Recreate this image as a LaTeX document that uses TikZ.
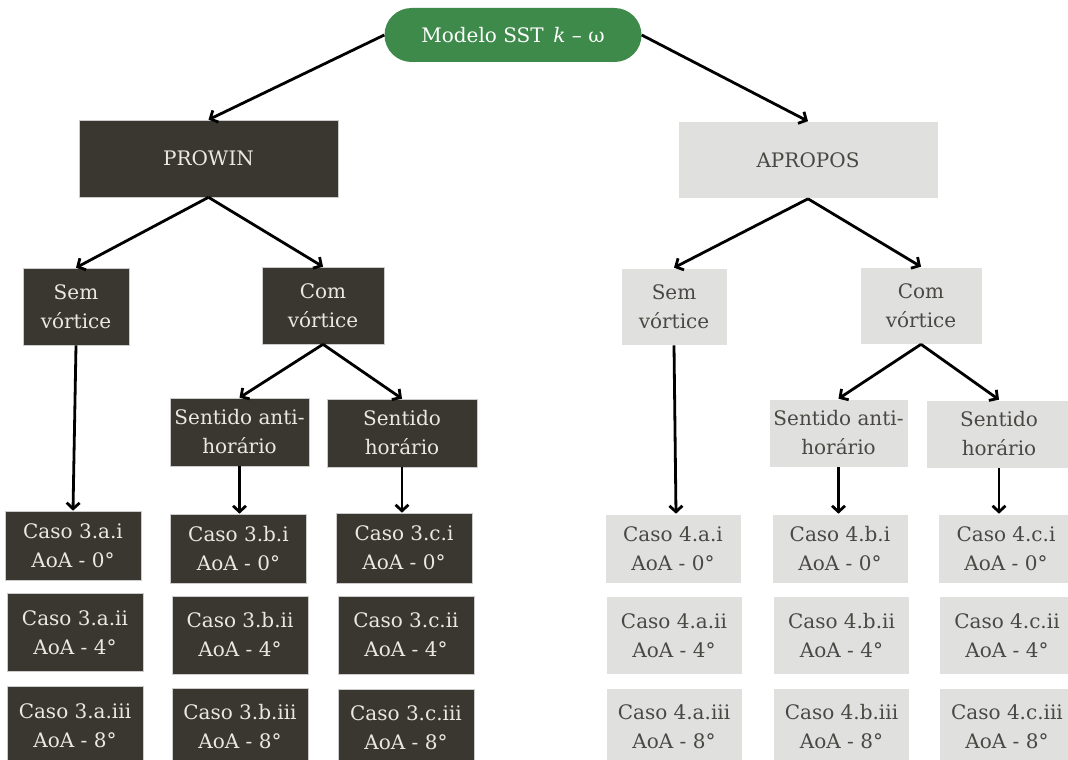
\documentclass[tikz,border=0pt]{standalone}
\usepackage{fontspec}
\setmainfont{DejaVu Serif}
\usetikzlibrary{positioning, arrows.meta}

\definecolor{boxdark}{HTML}{3A3731}
\definecolor{textlight}{HTML}{EAE8E2}
\definecolor{boxlight}{HTML}{E0E1DE}
\definecolor{textdark}{HTML}{4A4843}
\definecolor{topgreen}{HTML}{3D8A4A}

\begin{document}
\begin{tikzpicture}[x=1pt, y=-1pt,
  every node/.style={align=center, inner sep=0pt, font=\fontsize{20}{29}\selectfont},
  darkbox/.style={rectangle, fill=boxdark, draw=gray!40, line width=0.6pt, text=textlight},
  lightbox/.style={rectangle, fill=boxlight, draw=white, line width=0.6pt, text=textdark},
  casobox/.style={minimum width=136pt, minimum height=78pt},
  arrow/.style={-{Straight Barb[length=6pt, width=13pt]}, line width=2.8pt, black}]
  % Frame of the picture
  \useasboundingbox (0,0) rectangle (1068,760);
  \clip (0,0) rectangle (1068,760);

  % Top node
  \node (modelo) [rectangle, rounded corners=27pt, fill=topgreen, text=white, minimum width=257pt, minimum height=54pt] at (513,35) {Modelo SST\, \textit{k} – ω};

  % Create the nodes (PROWIN)
  \node (prowin) [darkbox, minimum width=259pt, minimum height=77pt] at (208.5,158.5) {PROWIN};
  \node (semP) [darkbox, minimum width=106pt, minimum height=77pt] at (76,306.5) {Sem\\vórtice};
  \node (comP) [darkbox, minimum width=122pt, minimum height=77pt] at (323,305.5) {Com\\vórtice};
  \node (antiP) [darkbox, minimum width=139pt, minimum height=68pt] at (239.5,432) {Sentido anti-\\horário};
  \node (horP) [darkbox, minimum width=150pt, minimum height=68pt] at (402,433) {Sentido\\horário};

  \node (caso3ai) [darkbox, casobox, minimum height=69pt] at (73,545.5) {Caso 3.a.i\\AoA - 0°};
  \node (caso3aii) [darkbox, casobox] at (75,632.5) {Caso 3.a.ii\\AoA - 4°};
  \node (caso3aiii) [darkbox, casobox] at (75,725.5) {Caso 3.a.iii\\AoA - 8°};
  \node (caso3bi) [darkbox, casobox, minimum height=69pt] at (238.5,548.5) {Caso 3.b.i\\AoA - 0°};
  \node (caso3bii) [darkbox, casobox] at (240,635) {Caso 3.b.ii\\AoA - 4°};
  \node (caso3biii) [darkbox, casobox] at (240,727) {Caso 3.b.iii\\AoA - 8°};
  \node (caso3ci) [darkbox, casobox, minimum height=70pt] at (404,548) {Caso 3.c.i\\AoA - 0°};
  \node (caso3cii) [darkbox, casobox] at (406,635) {Caso 3.c.ii\\AoA - 4°};
  \node (caso3ciii) [darkbox, casobox] at (406,728) {Caso 3.c.iii\\AoA - 8°};

  % Create the nodes (APROPOS)
  \node (apropos) [lightbox, minimum width=260pt, minimum height=77pt] at (808,160) {APROPOS};
  \node (semA) [lightbox, minimum width=106pt, minimum height=77pt] at (674,306.5) {Sem\\vórtice};
  \node (comA) [lightbox, minimum width=122pt, minimum height=77pt] at (921,305.5) {Com\\vórtice};
  \node (antiA) [lightbox, minimum width=139pt, minimum height=68pt] at (838.5,433) {Sentido anti-\\horário};
  \node (horA) [lightbox, minimum width=146pt, minimum height=68pt] at (999,434) {Sentido\\horário};

  \node (caso4ai) [lightbox, casobox, minimum height=69pt] at (673,548.5) {Caso 4.a.i\\AoA - 0°};
  \node (caso4aii) [lightbox, casobox] at (674,635.5) {Caso 4.a.ii\\AoA - 4°};
  \node (caso4aiii) [lightbox, casobox] at (674,727) {Caso 4.a.iii\\AoA - 8°};
  \node (caso4bi) [lightbox, casobox, minimum height=69pt] at (840,548.5) {Caso 4.b.i\\AoA - 0°};
  \node (caso4bii) [lightbox, casobox] at (841.5,635.5) {Caso 4.b.ii\\AoA - 4°};
  \node (caso4biii) [lightbox, casobox] at (841.5,727) {Caso 4.b.iii\\AoA - 8°};
  \node (caso4ci) [lightbox, casobox, minimum height=69pt] at (1006,548.5) {Caso 4.c.i\\AoA - 0°};
  \node (caso4cii) [lightbox, casobox] at (1007,635.5) {Caso 4.c.ii\\AoA - 4°};
  \node (caso4ciii) [lightbox, casobox] at (1007,727) {Caso 4.c.iii\\AoA - 8°};

  % Arrows
  \draw [arrow] (modelo.west) -- (prowin.north);
  \draw [arrow] (modelo.east) -- (apropos.north);

  \draw [arrow] (prowin.south) -- (semP.north);
  \draw [arrow] (prowin.south) -- (comP.north);
  \draw [arrow] (semP.south) -- (caso3ai.north);
  \draw [arrow] (comP.south) -- (antiP.north);
  \draw [arrow] (comP.south) -- (horP.north);
  \draw [arrow] (antiP.south) -- (antiP.south |- caso3bi.north);
  \draw [arrow] (horP.south) -- (horP.south |- caso3ci.north);

  \draw [arrow] (apropos.south) -- (semA.north);
  \draw [arrow] (apropos.south) -- (comA.north);
  \draw [arrow] (semA.south) -- ([xshift=3pt]caso4ai.north);
  \draw [arrow] (comA.south) -- (antiA.north);
  \draw [arrow] (comA.south) -- (horA.north);
  \draw [arrow] (antiA.south) -- (antiA.south |- caso4bi.north);
  \draw [arrow] (horA.south) -- (horA.south |- caso4ci.north);
\end{tikzpicture}
\end{document}
